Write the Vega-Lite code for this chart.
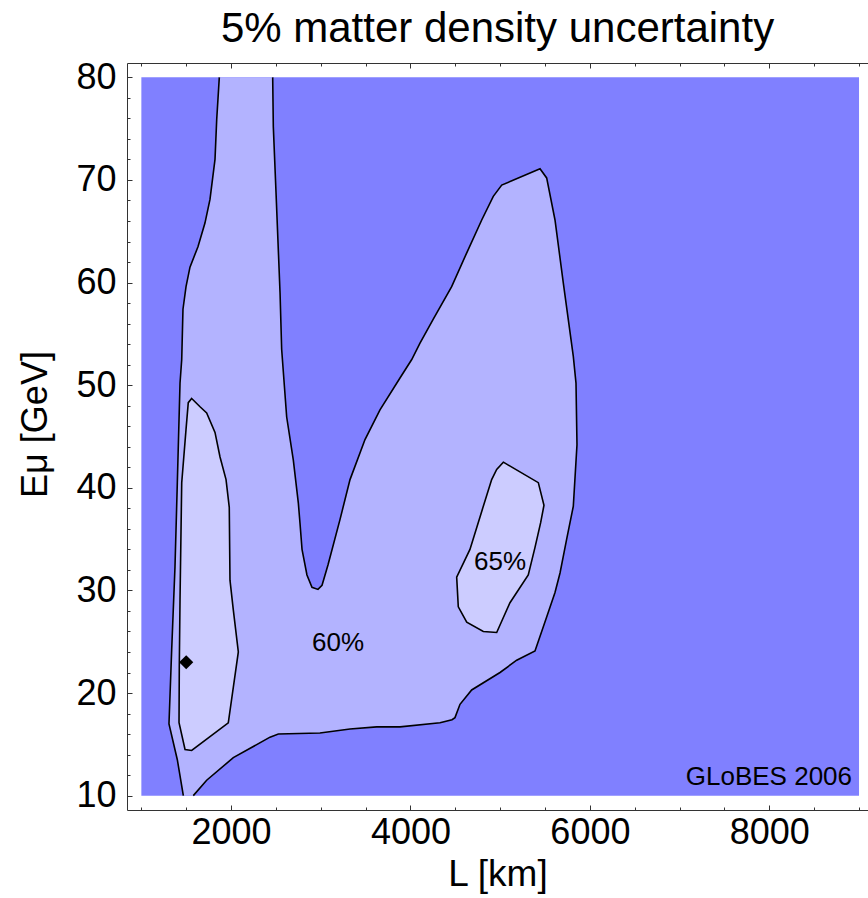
{
  "$schema": "https://vega.github.io/schema/vega-lite/v6.json",
  "width": 741,
  "height": 747,
  "autosize": "none",
  "padding": {"left": 127, "top": 63, "right": 0, "bottom": 88},
  "background": "white",
  "config": {"view": {"stroke": null}, "font": "Liberation Sans"},
  "title": {"text": "5% matter density uncertainty", "fontSize": 42, "font": "Liberation Sans", "fontWeight": "normal", "color": "black", "anchor": "middle", "offset": 8},
  "datasets": {
    "bg": [{"L": 1000, "L2": 9000, "E": 10, "E2": 80}],
    "outer": [
      {"seg": "a", "i": 0, "L": 1869, "E": 80},
      {"seg": "a", "i": 1, "L": 1840, "E": 75.9},
      {"seg": "a", "i": 2, "L": 1821, "E": 72.0},
      {"seg": "a", "i": 3, "L": 1765, "E": 68.1},
      {"seg": "a", "i": 4, "L": 1709, "E": 65.8},
      {"seg": "a", "i": 5, "L": 1631, "E": 63.5},
      {"seg": "a", "i": 6, "L": 1542, "E": 61.5},
      {"seg": "a", "i": 7, "L": 1498, "E": 59.6},
      {"seg": "a", "i": 8, "L": 1464, "E": 57.4},
      {"seg": "a", "i": 9, "L": 1450, "E": 52.5},
      {"seg": "a", "i": 10, "L": 1431, "E": 50.2},
      {"seg": "a", "i": 11, "L": 1401, "E": 40.5},
      {"seg": "a", "i": 12, "L": 1375, "E": 32.3},
      {"seg": "a", "i": 13, "L": 1338, "E": 24.2},
      {"seg": "a", "i": 14, "L": 1308, "E": 17.0},
      {"seg": "a", "i": 15, "L": 1401, "E": 13.5},
      {"seg": "a", "i": 16, "L": 1468, "E": 10},
      {"seg": "b", "i": 17, "L": 1579, "E": 10},
      {"seg": "b", "i": 18, "L": 1728, "E": 11.5},
      {"seg": "b", "i": 19, "L": 2025, "E": 13.7},
      {"seg": "b", "i": 20, "L": 2434, "E": 15.7},
      {"seg": "b", "i": 21, "L": 2527, "E": 16.0},
      {"seg": "b", "i": 22, "L": 2991, "E": 16.1},
      {"seg": "b", "i": 23, "L": 3326, "E": 16.5},
      {"seg": "b", "i": 24, "L": 3623, "E": 16.7},
      {"seg": "b", "i": 25, "L": 3883, "E": 16.7},
      {"seg": "b", "i": 26, "L": 4329, "E": 17.1},
      {"seg": "b", "i": 27, "L": 4463, "E": 17.4},
      {"seg": "b", "i": 28, "L": 4496, "E": 17.6},
      {"seg": "b", "i": 29, "L": 4552, "E": 18.9},
      {"seg": "b", "i": 30, "L": 4682, "E": 20.3},
      {"seg": "b", "i": 31, "L": 4998, "E": 22.0},
      {"seg": "b", "i": 32, "L": 5184, "E": 23.2},
      {"seg": "b", "i": 33, "L": 5388, "E": 24.1},
      {"seg": "b", "i": 34, "L": 5518, "E": 27.4},
      {"seg": "b", "i": 35, "L": 5611, "E": 29.8},
      {"seg": "b", "i": 36, "L": 5667, "E": 31.7},
      {"seg": "b", "i": 37, "L": 5741, "E": 35.0},
      {"seg": "b", "i": 38, "L": 5815, "E": 38.2},
      {"seg": "b", "i": 39, "L": 5856, "E": 44.2},
      {"seg": "b", "i": 40, "L": 5845, "E": 50.2},
      {"seg": "b", "i": 41, "L": 5815, "E": 52.8},
      {"seg": "b", "i": 42, "L": 5703, "E": 60.0},
      {"seg": "b", "i": 43, "L": 5611, "E": 66.1},
      {"seg": "b", "i": 44, "L": 5518, "E": 70.2},
      {"seg": "b", "i": 45, "L": 5444, "E": 71.1},
      {"seg": "b", "i": 46, "L": 5017, "E": 69.5},
      {"seg": "b", "i": 47, "L": 4923, "E": 68.4},
      {"seg": "b", "i": 48, "L": 4794, "E": 66.1},
      {"seg": "b", "i": 49, "L": 4627, "E": 62.9},
      {"seg": "b", "i": 50, "L": 4459, "E": 59.6},
      {"seg": "b", "i": 51, "L": 4251, "E": 56.4},
      {"seg": "b", "i": 52, "L": 4106, "E": 54.1},
      {"seg": "b", "i": 53, "L": 4014, "E": 52.5},
      {"seg": "b", "i": 54, "L": 3883, "E": 50.7},
      {"seg": "b", "i": 55, "L": 3660, "E": 47.6},
      {"seg": "b", "i": 56, "L": 3493, "E": 44.7},
      {"seg": "b", "i": 57, "L": 3326, "E": 40.8},
      {"seg": "b", "i": 58, "L": 3214, "E": 36.9},
      {"seg": "b", "i": 59, "L": 3081, "E": 32.5},
      {"seg": "b", "i": 60, "L": 3014, "E": 30.5},
      {"seg": "b", "i": 61, "L": 2969, "E": 30.1},
      {"seg": "b", "i": 62, "L": 2902, "E": 30.3},
      {"seg": "b", "i": 63, "L": 2846, "E": 31.5},
      {"seg": "b", "i": 64, "L": 2791, "E": 34.0},
      {"seg": "b", "i": 65, "L": 2768, "E": 36.6},
      {"seg": "b", "i": 66, "L": 2750, "E": 38.5},
      {"seg": "b", "i": 67, "L": 2694, "E": 42.7},
      {"seg": "b", "i": 68, "L": 2620, "E": 46.9},
      {"seg": "b", "i": 69, "L": 2564, "E": 53.5},
      {"seg": "b", "i": 70, "L": 2546, "E": 59.0},
      {"seg": "b", "i": 71, "L": 2501, "E": 68.8},
      {"seg": "b", "i": 72, "L": 2471, "E": 75.2},
      {"seg": "b", "i": 73, "L": 2464, "E": 80}
    ],
    "inner": [
      {"region": "left", "i": 0, "L": 1561, "E": 48.7},
      {"region": "left", "i": 1, "L": 1654, "E": 47.9},
      {"region": "left", "i": 2, "L": 1728, "E": 47.3},
      {"region": "left", "i": 3, "L": 1821, "E": 45.4},
      {"region": "left", "i": 4, "L": 1877, "E": 43.0},
      {"region": "left", "i": 5, "L": 1944, "E": 40.8},
      {"region": "left", "i": 6, "L": 1980, "E": 38.1},
      {"region": "left", "i": 7, "L": 1988, "E": 31.0},
      {"region": "left", "i": 8, "L": 2025, "E": 28.1},
      {"region": "left", "i": 9, "L": 2081, "E": 24.0},
      {"region": "left", "i": 10, "L": 1969, "E": 17.1},
      {"region": "left", "i": 11, "L": 1561, "E": 14.4},
      {"region": "left", "i": 12, "L": 1487, "E": 14.5},
      {"region": "left", "i": 13, "L": 1420, "E": 17.1},
      {"region": "left", "i": 14, "L": 1423, "E": 22.6},
      {"region": "left", "i": 15, "L": 1431, "E": 29.1},
      {"region": "left", "i": 16, "L": 1450, "E": 40.5},
      {"region": "left", "i": 17, "L": 1498, "E": 45.7},
      {"region": "left", "i": 18, "L": 1523, "E": 48.3},
      {"region": "right", "i": 20, "L": 5035, "E": 42.5},
      {"region": "right", "i": 21, "L": 5425, "E": 40.5},
      {"region": "right", "i": 22, "L": 5488, "E": 38.3},
      {"region": "right", "i": 23, "L": 5451, "E": 36.6},
      {"region": "right", "i": 24, "L": 5388, "E": 34.2},
      {"region": "right", "i": 25, "L": 5313, "E": 31.5},
      {"region": "right", "i": 26, "L": 5184, "E": 29.8},
      {"region": "right", "i": 27, "L": 5109, "E": 28.8},
      {"region": "right", "i": 28, "L": 4961, "E": 25.9},
      {"region": "right", "i": 29, "L": 4812, "E": 26.0},
      {"region": "right", "i": 30, "L": 4627, "E": 26.9},
      {"region": "right", "i": 31, "L": 4533, "E": 28.4},
      {"region": "right", "i": 32, "L": 4515, "E": 31.3},
      {"region": "right", "i": 33, "L": 4663, "E": 34.0},
      {"region": "right", "i": 34, "L": 4794, "E": 37.7},
      {"region": "right", "i": 35, "L": 4905, "E": 40.8},
      {"region": "right", "i": 36, "L": 4961, "E": 41.8}
    ],
    "point": [{"L": 1500, "E": 23}],
    "labels": [{"L": 3192, "E": 24.9, "t": "60%"}, {"L": 4998, "E": 32.8, "t": "65%"}],
    "credit": [{"L": 8922, "E": 11.0, "t": "GLoBES 2006"}]
  },
  "encoding": {
    "x": {"field": "L", "type": "quantitative", "scale": {"domain": [840, 9100], "nice": false, "zero": false}, "axis": null},
    "y": {"field": "E", "type": "quantitative", "scale": {"domain": [8.6, 81.4], "nice": false, "zero": false}, "axis": null}
  },
  "layer": [
    {
      "data": {"name": "bg"},
      "mark": {"type": "rect", "color": "#8080FF"},
      "encoding": {
        "x": {"field": "L", "type": "quantitative", "scale": {"domain": [840, 9100], "nice": false, "zero": false},
          "axis": {"orient": "bottom", "title": "L [km]", "values": [1000, 1500, 2000, 2500, 3000, 3500, 4000, 4500, 5000, 5500, 6000, 6500, 7000, 7500, 8000, 8500, 9000],
            "labelExpr": "datum.value % 2000 === 0 ? datum.label : ''", "format": "d", "labelOverlap": false, "labelBound": false, "labelFlush": false,
            "grid": false, "domainColor": "#333", "domainWidth": 1, "tickColor": "#333", "tickWidth": 1,
            "tickSize": {"condition": {"test": "datum.value % 2000 === 0", "value": -5}, "value": -3},
            "labelFontSize": 36, "labelColor": "black", "labelPadding": 10, "labelFont": "Liberation Sans",
            "titleFontSize": 37, "titleFontWeight": "normal", "titleColor": "black", "titlePadding": 4, "titleFont": "Liberation Sans"}},
        "x2": {"field": "L2"},
        "y": {"field": "E", "type": "quantitative", "scale": {"domain": [8.6, 81.4], "nice": false, "zero": false},
          "axis": {"orient": "left", "title": "Eμ [GeV]", "values": [10, 12, 14, 16, 18, 20, 22, 24, 26, 28, 30, 32, 34, 36, 38, 40, 42, 44, 46, 48, 50, 52, 54, 56, 58, 60, 62, 64, 66, 68, 70, 72, 74, 76, 78, 80],
            "labelExpr": "datum.value % 10 === 0 ? datum.label : ''", "format": "d", "labelOverlap": false, "labelBound": false, "labelFlush": false,
            "grid": false, "domainColor": "#333", "domainWidth": 1, "tickColor": "#333", "tickWidth": 1,
            "tickSize": {"condition": {"test": "datum.value % 10 === 0", "value": -5}, "value": -3},
            "labelFontSize": 36, "labelColor": "black", "labelPadding": 16, "labelFont": "Liberation Sans",
            "titleFontSize": 36, "titleFontWeight": "normal", "titleColor": "black", "titlePadding": 21, "titleFont": "Liberation Sans", "titleY": 361}},
        "y2": {"field": "E2"}
      }
    },
    {
      "data": {"name": "outer"},
      "mark": {"type": "line", "fill": "#B3B3FF", "strokeOpacity": 0, "interpolate": "linear-closed"},
      "encoding": {"order": {"field": "i", "type": "quantitative"}}
    },
    {
      "data": {"name": "outer"},
      "mark": {"type": "line", "stroke": "black", "strokeWidth": 1.6, "interpolate": "linear"},
      "encoding": {"order": {"field": "i", "type": "quantitative"}, "detail": {"field": "seg", "type": "nominal"}}
    },
    {
      "data": {"name": "inner"},
      "mark": {"type": "line", "fill": "#CCCCFF", "stroke": "black", "strokeWidth": 1.6, "interpolate": "linear-closed"},
      "encoding": {"order": {"field": "i", "type": "quantitative"}, "detail": {"field": "region", "type": "nominal"}}
    },
    {
      "data": {"name": "point"},
      "mark": {"type": "point", "shape": "diamond", "filled": true, "color": "black", "opacity": 1, "size": 200}
    },
    {
      "data": {"name": "labels"},
      "mark": {"type": "text", "fontSize": 26, "color": "black", "align": "center", "baseline": "middle", "font": "Liberation Sans"},
      "encoding": {"text": {"field": "t"}}
    },
    {
      "data": {"name": "credit"},
      "mark": {"type": "text", "fontSize": 26, "color": "black", "align": "right", "baseline": "alphabetic", "font": "Liberation Sans"},
      "encoding": {
        "text": {"field": "t"},
        "x": {"field": "L", "type": "quantitative", "scale": {"domain": [840, 9100], "nice": false, "zero": false},
          "axis": {"orient": "top", "title": null, "labels": false, "values": [1000, 1500, 2000, 2500, 3000, 3500, 4000, 4500, 5000, 5500, 6000, 6500, 7000, 7500, 8000, 8500, 9000],
            "grid": false, "domainColor": "#333", "domainWidth": 1, "tickColor": "#333", "tickWidth": 1,
            "tickSize": {"condition": {"test": "datum.value % 2000 === 0", "value": -5}, "value": -3}}}
      }
    }
  ],
  "resolve": {"axis": {"x": "independent", "y": "independent"}}
}
